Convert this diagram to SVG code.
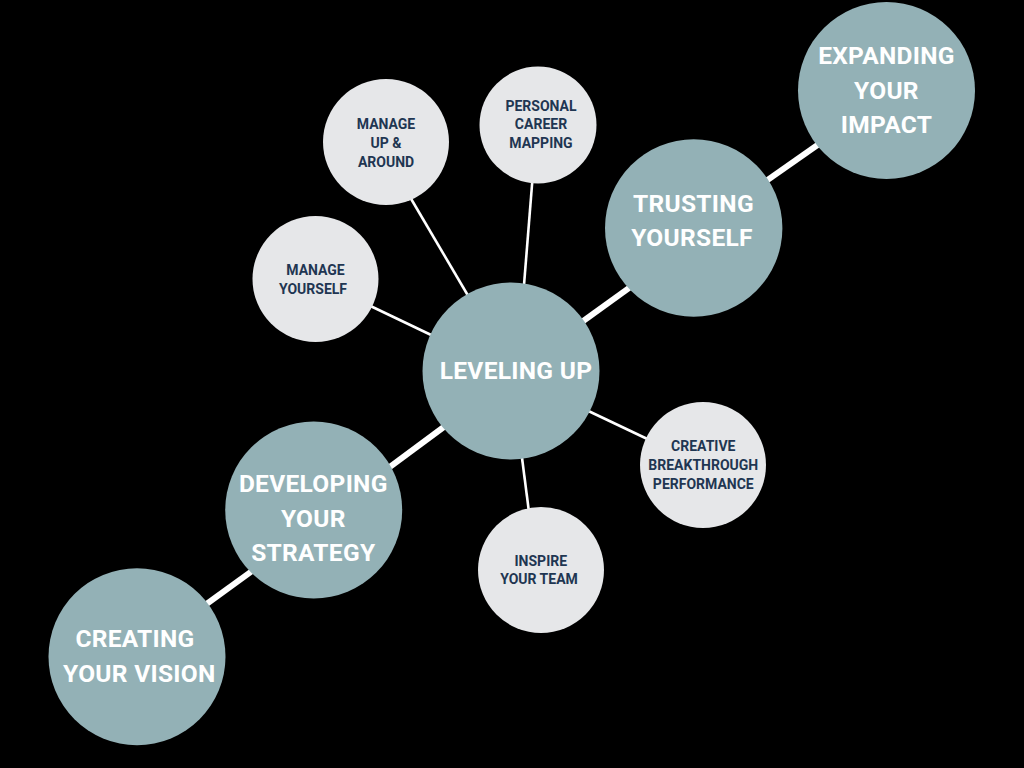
<svg xmlns="http://www.w3.org/2000/svg" width="1024" height="768" viewBox="0 0 1024 768">
  <style>
    .big { fill: #93b1b6; }
    .small { fill: #e6e7e9; }
    .bt { font-family: Roboto, "Liberation Sans", sans-serif; font-weight: 700; font-size: 24.5px; letter-spacing: 0.3px; fill: #ffffff; text-anchor: middle; }
    .st { font-family: Roboto, "Liberation Sans", sans-serif; font-weight: 700; font-size: 14px; fill: #1f3652; text-anchor: middle; }
    .thick { stroke: #ffffff; stroke-width: 6; }
    .thin { stroke: #ffffff; stroke-width: 2.6; }
  </style>
  <rect width="1024" height="768" fill="#000000"/>
  <g id="connectors">
    <line class="thick" x1="370" y1="481.6" x2="460" y2="415"/>
    <line class="thick" x1="560" y1="337.7" x2="650" y2="272.9"/>
    <line class="thick" x1="745" y1="195.8" x2="840" y2="129.3"/>
    <line class="thick" x1="190" y1="616" x2="270" y2="558"/>
    <line class="thin" x1="400" y1="180" x2="480" y2="316"/>
    <line class="thin" x1="534" y1="160" x2="522" y2="310"/>
    <line class="thin" x1="360" y1="301" x2="450" y2="344"/>
    <line class="thin" x1="580" y1="407" x2="660" y2="445"/>
    <line class="thin" x1="521" y1="450" x2="530" y2="520"/>
  </g>
  <g id="leveling-up">
    <circle class="big" cx="511" cy="371" r="88.5"/>
    <text class="bt" x="516" y="379">LEVELING UP</text>
  </g>
  <g id="trusting-yourself">
    <circle class="big" cx="693.7" cy="228" r="88.7"/>
    <text class="bt" x="693.5" y="212">TRUSTING</text>
    <text class="bt" x="692" y="246">YOURSELF</text>
  </g>
  <g id="expanding-your-impact">
    <circle class="big" cx="886.5" cy="90.5" r="88.5"/>
    <text class="bt" x="886.5" y="64">EXPANDING</text>
    <text class="bt" x="886.5" y="99">YOUR</text>
    <text class="bt" x="886.5" y="133.3">IMPACT</text>
  </g>
  <g id="developing-your-strategy">
    <circle class="big" cx="313.7" cy="510" r="88.5"/>
    <text class="bt" x="313.3" y="491.7">DEVELOPING</text>
    <text class="bt" x="313.3" y="526.7">YOUR</text>
    <text class="bt" x="313.3" y="560.7">STRATEGY</text>
  </g>
  <g id="creating-your-vision">
    <circle class="big" cx="137" cy="656.7" r="88.5"/>
    <text class="bt" x="135" y="646.7">CREATING</text>
    <text class="bt" x="139.3" y="681.7">YOUR VISION</text>
  </g>
  <g id="manage-up-around">
    <circle class="small" cx="386" cy="142" r="63"/>
    <text class="st" x="386" y="129.3">MANAGE</text>
    <text class="st" x="386" y="148.3">UP &amp;</text>
    <text class="st" x="386" y="167">AROUND</text>
  </g>
  <g id="personal-career-mapping">
    <circle class="small" cx="538" cy="125" r="58.5"/>
    <text class="st" x="541" y="110.7">PERSONAL</text>
    <text class="st" x="541" y="129.3">CAREER</text>
    <text class="st" x="541" y="148.3">MAPPING</text>
  </g>
  <g id="manage-yourself">
    <circle class="small" cx="315.5" cy="279" r="63"/>
    <text class="st" x="315.5" y="275.3">MANAGE</text>
    <text class="st" x="313" y="294">YOURSELF</text>
  </g>
  <g id="creative-breakthrough-performance">
    <circle class="small" cx="703" cy="465" r="63"/>
    <text class="st" x="703.3" y="450.7">CREATIVE</text>
    <text class="st" x="703.3" y="470">BREAKTHROUGH</text>
    <text class="st" x="703.3" y="489">PERFORMANCE</text>
  </g>
  <g id="inspire-your-team">
    <circle class="small" cx="541" cy="570" r="63"/>
    <text class="st" x="540.8" y="565.7">INSPIRE</text>
    <text class="st" x="539" y="584">YOUR TEAM</text>
  </g>
</svg>
